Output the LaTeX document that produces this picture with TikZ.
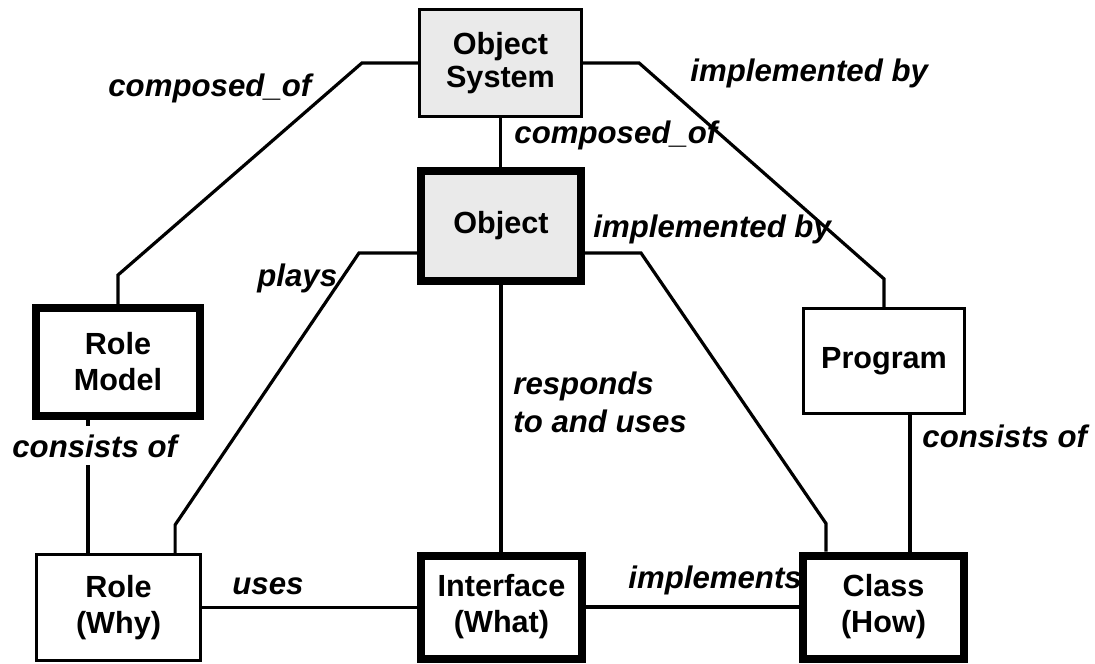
\documentclass[tikz,border=0pt]{standalone}
\usepackage{fontspec}
\setmainfont{Liberation Sans}
\usepackage{xcolor}
\usepackage{tikz}
\usetikzlibrary{calc}
\definecolor{boxGray}{HTML}{EAEAEA}

\begin{document}
\begin{tikzpicture}[
		x=0.5pt, y=-0.5pt,
		%--- Node Styles ---------------------------------------------------
		box/.style={
			rectangle,
			draw=black,
			fill=white,
			line width=1.6pt,
			minimum width=81pt,
			minimum height=53pt,
			inner sep=0pt,
			align=center,
			font=\fontsize{15.3}{18}\selectfont\bfseries
		},
		thickbox/.style={
			box,
			line width=4pt
		},
		graybox/.style={
			fill=boxGray
		},
		%--- Connector Style -----------------------------------------------
		link/.style={
			draw=black,
			line width=1.6pt,
			line join=miter
		},
		%--- Label Style ---------------------------------------------------
		linklabel/.style={
			anchor=base west,
			inner sep=0pt,
			font=\fontsize{15.6}{19}\selectfont\bfseries\itshape
		}
		]
		
		\useasboundingbox (0,0) rectangle (1095,663);
		
		%--- Middle Column Nodes -----------------------------------------------
		
		\node[box, graybox, minimum height=53.5pt,
			font=\fontsize{15.3}{16.5}\selectfont\bfseries] (osys) at (500.5,63)
		{Object\\System};
		
		\node[thickbox, graybox, minimum width=80pt, minimum height=55pt] (obj) at (501,226)
		{Object};
		
		\node[thickbox, minimum width=80.5pt, minimum height=51.5pt] (iface) at (501.5,607)
		{Interface\\(What)};
		
		%--- Left Column Nodes -------------------------------------------------
		
		\node[thickbox, minimum width=82pt, minimum height=54pt] (rmodel) at (118,362)
		{Role\\Model};
		
		\node[box, minimum width=82pt] (role) at (118.5,607.5)
		{Role\\(Why)};
		
		%--- Right Column Nodes ------------------------------------------------
		
		\node[box, minimum width=80.5pt, minimum height=52.5pt] (prog) at (884,361)
		{Program};
		
		\node[thickbox, minimum width=80.5pt, minimum height=51.5pt] (cls) at (883.5,607)
		{Class\\(How)};
		
		%--- Connectors --------------------------------------------------------
		
		\draw[link] (osys.west) -- ++(-56,0) -- ($(rmodel.north)+(0,-29)$) -- (rmodel.north);
		\draw[link] ($(obj.west)+(0,27)$) -- ++(-58,0)
		-- ($(role.north east)+(-27,-28)$) -- ++(0,28);
		\draw[link] (osys.south) -- (osys.south |- obj.north);
		\draw[link] (osys.east) -- ++(56,0) -- ($(prog.north)+(0,-28)$) -- (prog.north);
		\draw[link] ($(obj.east)+(0,27)$) -- ++(56,0)
		-- ($(cls.north west)+(27,-28)$) -- ++(0,28);
		\draw[link] (obj.south) -- (obj.south |- iface.north);
		\draw[link] ($(rmodel.south west)+(56,0)$) coordinate (cl) -- (cl |- role.north);
		\draw[link] ($(prog.south west)+(108,0)$) coordinate (cr) -- (cr |- cls.north);
		\draw[link] (role.east) -- (role.east -| iface.west);
		\draw[link] (iface.east) -- (iface.east -| cls.west);
		
		%--- Connector Labels --------------------------------------------------
		
		\node[linklabel] (lcomp1) at (108,97) {composed\_of};
		\node[linklabel] (lcomp2) at (514,144) {composed\_of};
		\node[linklabel] (limpl1) at (690,82) {implemented by};
		\node[linklabel] (limpl2) at (593,237) {implemented by};
		\node[linklabel] (lplays) at (257,286) {plays};
		\node[linklabel, anchor=north west, align=left] (lresp) at (513,371)
		{responds\\to and uses};
		\node[linklabel, fill=white, inner ysep=4pt, yshift=-1pt] (lcons1) at (12,455) {consists of};
		\node[linklabel] (lcons2) at (922,447) {consists of};
		\node[linklabel] (luses) at (232,594) {uses};
		\node[linklabel] (limpls) at (628,588) {implements};
		
	\end{tikzpicture}
\end{document}
